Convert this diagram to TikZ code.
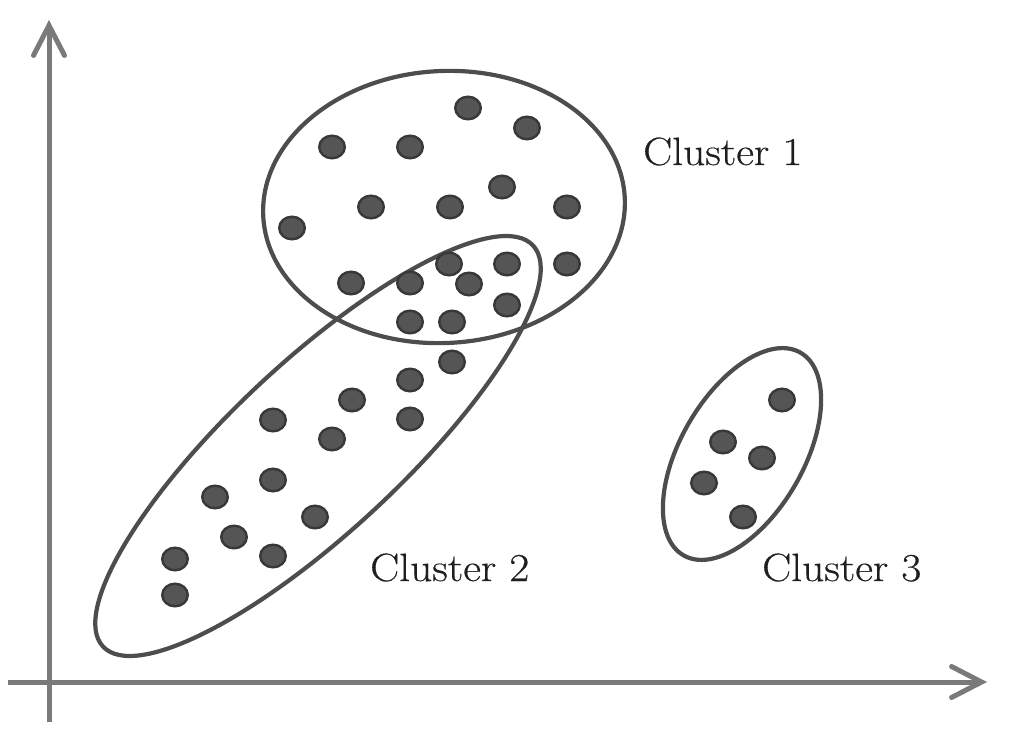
\documentclass[tikz,border=0pt]{standalone}
\usepackage{fontspec}
\setmainfont{Latin Modern Roman}[FakeStretch=1.1,FakeBold=0.4]
\usetikzlibrary{arrows.meta}
\definecolor{axisc}{HTML}{7A7A7A}
\definecolor{ringc}{HTML}{4D4D4D}
\definecolor{dotfill}{HTML}{555555}
\definecolor{dotedge}{HTML}{383838}
\definecolor{textc}{HTML}{1E1E1E}
\begin{document}
\begin{tikzpicture}[x=1pt,y=-1pt,
  axisline/.style={draw=axisc,line width=5pt,-{Straight Barb[length=30pt,width=31pt,line cap=round]}},
  ring/.style={draw=ringc,line width=4.2pt},
  datadot/.style={fill=dotfill,draw=dotedge,line width=2.4pt},
  lbl/.style={text=textc,anchor=base west,inner sep=0pt,font=\fontsize{39.5}{42}\selectfont}]
\useasboundingbox (0,0) rectangle (1024,735);
% axes
\coordinate (ybot) at (49,722);
\coordinate (ytop) at (49,20);
\coordinate (xleft) at (8,682);
\coordinate (xright) at (987,682);
\draw[axisline] (ybot) -- (ytop);
\draw[axisline] (xleft) -- (xright);
% cluster outlines
\draw[ring,rotate around={3:(444,207)}] (444,207) ellipse [x radius=181pt,y radius=136pt];
\draw[ring,rotate around={43:(318,446)}] (318,446) ellipse [x radius=294pt,y radius=85pt];
\draw[ring,rotate around={60:(742,454)}] (742,454) ellipse [x radius=117pt,y radius=61.5pt];
% data points
\foreach \px/\py in {468/108,527/128,332/147,410/147,502/187,371/207,450/207,567/207,
  292/228,351/283,410/283,449/264,469/284,507/264,567/264,507/305,410/322,452/322,
  452/362,410/380,352/400,273/420,332/439,410/419,273/480,215/497,315/517,234/537,
  273/556,175/559,175/595,
  782/400,723/442,762/458,704/483,743/517}
  \draw[datadot] (\px,\py) ellipse [x radius=12.8pt,y radius=11.3pt];
% labels
\node[lbl] (c1) at (643,165) {Cluster 1};
\node[lbl] (c2) at (370,581) {Cluster 2};
\node[lbl] (c3) at (762,581) {Cluster 3};
\end{tikzpicture}
\end{document}
